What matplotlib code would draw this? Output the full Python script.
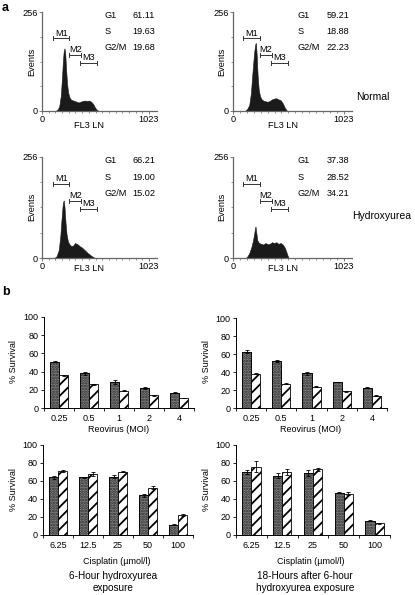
import numpy as np
import matplotlib
matplotlib.use("Agg")
import matplotlib.pyplot as plt

plt.rcParams['font.family'] = ['Liberation Sans', 'DejaVu Sans']
plt.rcParams['hatch.linewidth'] = 1.3

# ---------------- data ----------------
# Flow cytometry histograms (channel, events)
h1_ch = [0, 130, 150, 165, 180, 192, 200, 208, 215, 222, 230, 240, 250, 262, 275, 290, 310, 330, 350, 370, 390, 410, 430, 450, 470, 490, 505, 520, 540, 1023]
h1_ev = [0, 0, 4, 12, 40, 90, 130, 155, 162, 150, 110, 70, 48, 36, 30, 28, 26, 24, 22, 24, 26, 27, 26, 27, 24, 18, 10, 4, 0, 0]
h2_ch = [0, 110, 130, 150, 165, 180, 195, 205, 212, 220, 228, 238, 250, 265, 280, 300, 320, 340, 360, 380, 400, 420, 440, 460, 480, 500, 1023]
h2_ev = [0, 0, 5, 15, 45, 100, 150, 172, 176, 140, 90, 55, 38, 30, 27, 25, 24, 26, 30, 32, 33, 30, 28, 20, 8, 0, 0]
h3_ch = [0, 120, 140, 160, 175, 190, 200, 208, 215, 225, 235, 248, 262, 280, 300, 315, 330, 345, 360, 380, 400, 420, 440, 460, 480, 500, 520, 1023]
h3_ev = [0, 0, 5, 20, 55, 110, 140, 146, 130, 90, 60, 42, 35, 30, 32, 38, 36, 34, 30, 27, 22, 17, 12, 8, 4, 1, 0, 0]
h4_ch = [0, 115, 130, 150, 170, 185, 195, 203, 208, 215, 225, 240, 260, 280, 300, 320, 340, 360, 380, 400, 420, 440, 460, 475, 490, 505, 515, 1023]
h4_ev = [0, 0, 3, 12, 28, 45, 60, 75, 80, 65, 45, 38, 36, 34, 38, 35, 36, 40, 38, 40, 36, 38, 34, 28, 18, 6, 0, 0]

phases = ['G1', 'S', 'G2/M']
h1_pct = ['61.11', '19.63', '19.68']
h2_pct = ['59.21', '18.88', '22.23']
h3_pct = ['66.21', '19.00', '15.02']
h4_pct = ['37.38', '28.52', '34.21']

gate_names = ['M1', 'M2', 'M3']
gates_left = [(108, 262), (262, 374), (364, 523)]
gates_right = [(90, 250), (246, 357), (351, 504)]
gate_levels = [188, 145, 124]

row_labels = ['Normal', 'Hydroxyurea']

# Survival bar charts
moi = ['0.25', '0.5', '1', '2', '4']
cis = ['6.25', '12.5', '25', '50', '100']

b1_grey = [51, 38, 28.5, 22, 17]
b1_grey_err = [0.6, 1.5, 2.0, 0.6, 0.8]
b1_hatch = [36, 26, 19, 14, 11]
b1_hatch_err = [0.6, 0.4, 0.4, 0.4, 0.4]

b2_grey = [62.5, 52, 38.5, 29, 22.5]
b2_grey_err = [1.5, 1.0, 1.5, 0.2, 0.6]
b2_hatch = [38, 27, 23.5, 18.5, 13.5]
b2_hatch_err = [0.6, 0.4, 0.4, 0.4, 0.4]

b3_grey = [64, 64, 65, 44, 11.5]
b3_grey_err = [1.5, 1.0, 1.5, 2.0, 0.6]
b3_hatch = [71.5, 68, 70.5, 52.5, 22]
b3_hatch_err = [1.0, 2.0, 1.0, 1.5, 1.0]

b4_grey = [70, 66, 69, 47, 16]
b4_grey_err = [2.0, 2.5, 3.0, 0.5, 0.6]
b4_hatch = [76, 70, 73, 46, 13]
b4_hatch_err = [6.0, 3.0, 2.0, 1.5, 0.6]

# ---------------- figure ----------------
W, H = 415, 595
fig = plt.figure(figsize=(W / 100, H / 100), dpi=100)


def px_axes(l, t, r, b):
    return fig.add_axes([l / W, 1 - b / H, (r - l) / W, (b - t) / H])


def ftext(x, y, s, **kw):
    fig.text(x / W, 1 - y / H, s, **kw)


FS = 6.6
BFS = 6.5
axcol = '#666666'


def hist_panel(ax, ch, ev, pct, gates):
    ax.fill_between(ch, ev, 0, color='#1a1a1a', lw=0.4, edgecolor='#1a1a1a')
    ax.set_xlim(0, 1100)
    ax.set_ylim(0, 256)
    for s in ['top', 'right']:
        ax.spines[s].set_visible(False)
    for s in ['left', 'bottom']:
        ax.spines[s].set_color(axcol)
        ax.spines[s].set_linewidth(0.9)
    ax.set_xticks([0, 1023])
    ax.set_xticklabels(['0', '1023'])
    ax.set_yticks([0, 256])
    ax.set_yticklabels(['0', '256'])
    ax.set_yticks([64, 128, 192], minor=True)
    ax.set_xticks(np.arange(0, 1024, 64), minor=True)
    ax.tick_params(which='major', length=2, width=0.6, color=axcol, labelsize=FS, pad=1)
    ax.tick_params(which='minor', length=1.2, width=0.5, color=axcol)
    for (a, b), lev, name in zip(gates, gate_levels, gate_names):
        ax.plot([a, b], [lev, lev], color='#333333', lw=0.7)
        ax.plot([a, a], [lev - 5, lev + 5], color='#333333', lw=0.7)
        ax.plot([b, b], [lev - 5, lev + 5], color='#333333', lw=0.7)
        ax.text((a + b) / 2, lev + 2, name, ha='center', va='bottom', fontsize=FS)
    for i, (ph, v) in enumerate(zip(phases, pct)):
        yy = 246 - i * 41
        ax.text(600, yy, ph, ha='left', va='center', fontsize=FS)
        ax.text(865, yy, v, ha='left', va='center', fontsize=FS)


ha1 = px_axes(42, 12, 157, 111)
hist_panel(ha1, h1_ch, h1_ev, h1_pct, gates_left)
ha2 = px_axes(233, 12, 352, 111)
hist_panel(ha2, h2_ch, h2_ev, h2_pct, gates_right)
ha3 = px_axes(42, 157, 157, 258)
hist_panel(ha3, h3_ch, h3_ev, h3_pct, gates_left)
ha4 = px_axes(233, 157, 352, 258)
hist_panel(ha4, h4_ch, h4_ev, h4_pct, gates_right)

for x0, y0 in [(32, 62), (222, 62), (32, 207), (222, 207)]:
    ftext(x0, y0, 'Events', rotation=90, ha='center', va='center', fontsize=FS)
for x0, y0 in [(89, 125), (283, 125), (89, 269), (283, 269)]:
    ftext(x0, y0, 'FL3 LN', ha='center', va='center', fontsize=FS)

ftext(356, 97, row_labels[0], ha='left', va='center', fontsize=7.5)
ftext(352, 216, row_labels[1], ha='left', va='center', fontsize=7.5)

ftext(2, 8, 'a', ha='left', va='center', fontsize=9, fontweight='bold')
ftext(2, 292, 'b', ha='left', va='center', fontsize=9, fontweight='bold')


def bar_panel(ax, cats, grey, grey_err, hat, hat_err):
    x = np.arange(len(cats))
    w = 0.3
    ax.bar(x - w / 2, grey, w, color='#858585', edgecolor='#2a2a2a', hatch='......', lw=0.6)
    ax.bar(x - w / 2, grey, w, color='none', edgecolor='black', lw=0.6)
    ax.errorbar(x - w / 2, grey, yerr=grey_err, fmt='none', ecolor='black', elinewidth=0.6, capsize=1.6, capthick=0.6)
    ax.bar(x + w / 2, hat, w, color='white', edgecolor='black', hatch='///', lw=0.6)
    ax.errorbar(x + w / 2, hat, yerr=hat_err, fmt='none', ecolor='black', elinewidth=0.6, capsize=1.6, capthick=0.6)
    ax.set_xlim(-0.5, 4.5)
    ax.set_ylim(0, 100)
    for s in ['top', 'right']:
        ax.spines[s].set_visible(False)
    for s in ['left', 'bottom']:
        ax.spines[s].set_linewidth(0.7)
    ax.set_yticks(np.arange(0, 101, 20))
    ax.set_xticks(x)
    ax.set_xticklabels(cats)
    ax.set_xticks(np.arange(-0.5, 4.6, 1), minor=True)
    ax.tick_params(axis='x', which='major', length=0, labelsize=BFS, pad=4)
    ax.tick_params(axis='x', which='minor', length=2.5, width=0.6)
    ax.tick_params(axis='y', length=2.5, width=0.6, labelsize=BFS, pad=1.5)


ba1 = px_axes(44, 317, 194, 408)
bar_panel(ba1, moi, b1_grey, b1_grey_err, b1_hatch, b1_hatch_err)
ba2 = px_axes(236, 318, 387, 408)
bar_panel(ba2, moi, b2_grey, b2_grey_err, b2_hatch, b2_hatch_err)
ba3 = px_axes(43, 445, 193, 535)
bar_panel(ba3, cis, b3_grey, b3_grey_err, b3_hatch, b3_hatch_err)
ba4 = px_axes(236, 445, 390, 535)
bar_panel(ba4, cis, b4_grey, b4_grey_err, b4_hatch, b4_hatch_err)

for x0, y0 in [(14, 362), (206, 362), (14, 490), (206, 490)]:
    ftext(x0, y0, '% Survival', rotation=90, ha='center', va='center', fontsize=BFS)
ftext(119, 429, 'Reovirus (MOI)', ha='center', va='center', fontsize=BFS)
ftext(311, 429, 'Reovirus (MOI)', ha='center', va='center', fontsize=BFS)
ftext(117, 561, 'Cisplatin (\u00b5mol/l)', ha='center', va='center', fontsize=BFS)
ftext(311, 561, 'Cisplatin (\u00b5mol/l)', ha='center', va='center', fontsize=BFS)
ftext(113, 582, '6-Hour hydroxyurea\nexposure', ha='center', va='center', fontsize=7.2, linespacing=1.15)
ftext(305, 582, '18-Hours after 6-hour\nhydroxyurea exposure', ha='center', va='center', fontsize=7.2, linespacing=1.15)

fig.savefig('out.png', dpi=100)
